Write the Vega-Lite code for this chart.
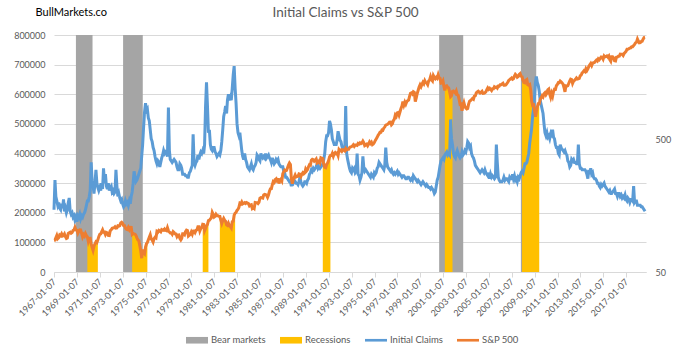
{
"$schema":"https://vega.github.io/schema/vega-lite/v6.json",
"width":592,"height":237,"autosize":"none",
"padding":{"left":54,"top":35,"right":47,"bottom":74},
"background":"white",
"config":{"font":"Lato","view":{"stroke":null},"axisX":{"labelOverlap":false,"labelBound":false}},
"title":{"text":"Initial Claims vs S&P 500","fontSize":13.5,"fontWeight":"normal","color":"#595959","offset":-27,"baseline":"bottom","anchor":"middle","frame":"group","dx":-4.5},
"datasets":{
"bear":[{"d":"1968-12-01","e":"1970-05-15"},{"d":"1973-01-15","e":"1974-10-05"},{"d":"2000-09-01","e":"2002-10-09"},{"d":"2007-10-25","e":"2009-02-25"}],
"m":[
{"d":"1967-01","c":210000,"s":86.6},{"d":"1967-02","c":310000,"s":86.8},{"d":"1967-03","c":255000,"s":90.2},{"d":"1967-04","c":240000,"s":94.0},{"d":"1967-05","c":225000,"s":89.1},{"d":"1967-06","c":235000,"s":90.6},{"d":"1967-07","c":215000,"s":94.8},{"d":"1967-08","c":210000,"s":93.6},{"d":"1967-09","c":230000,"s":96.7},{"d":"1967-10","c":215000,"s":93.3},{"d":"1967-11","c":245000,"s":94.0},{"d":"1967-12","c":205000,"s":96.5},
{"d":"1968-01","c":215000,"s":92.2},{"d":"1968-02","c":200000,"s":89.4},{"d":"1968-03","c":210000,"s":90.2},{"d":"1968-04","c":235000,"s":97.5},{"d":"1968-05","c":250000,"s":98.7},{"d":"1968-06","c":205000,"s":99.6},{"d":"1968-07","c":195000,"s":97.7},{"d":"1968-08","c":200000,"s":98.9},{"d":"1968-09","c":185000,"s":102.7},{"d":"1968-10","c":190000,"s":103.4},{"d":"1968-11","c":175000,"s":108.4},{"d":"1968-12","c":185000,"s":103.9},
{"d":"1969-01","c":170000,"s":103.0},{"d":"1969-02","c":190000,"s":98.1},{"d":"1969-03","c":185000,"s":101.5},{"d":"1969-04","c":195000,"s":103.7},{"d":"1969-05","c":180000,"s":103.5},{"d":"1969-06","c":190000,"s":97.7},{"d":"1969-07","c":185000,"s":91.8},{"d":"1969-08","c":195000,"s":95.5},{"d":"1969-09","c":200000,"s":93.1},{"d":"1969-10","c":210000,"s":97.2},{"d":"1969-11","c":225000,"s":93.8},{"d":"1969-12","c":240000,"s":92.1,"r":1},
{"d":"1970-01","c":240000,"s":85.0,"r":1},{"d":"1970-02","c":255000,"s":89.5,"r":1},{"d":"1970-03","c":275000,"s":89.6,"r":1},{"d":"1970-04","c":370000,"s":81.5,"r":1},{"d":"1970-05","c":310000,"s":76.6,"r":1},{"d":"1970-06","c":290000,"s":72.7,"r":1},{"d":"1970-07","c":265000,"s":78.1,"r":1},{"d":"1970-08","c":300000,"s":81.5,"r":1},{"d":"1970-09","c":345000,"s":84.3,"r":1},{"d":"1970-10","c":300000,"s":83.3,"r":1},{"d":"1970-11","c":285000,"s":87.2,"r":1},{"d":"1970-12","c":275000,"s":92.2},
{"d":"1971-01","c":285000,"s":95.9},{"d":"1971-02","c":275000,"s":96.8},{"d":"1971-03","c":300000,"s":100.3},{"d":"1971-04","c":280000,"s":103.9},{"d":"1971-05","c":350000,"s":99.6},{"d":"1971-06","c":300000,"s":99.7},{"d":"1971-07","c":330000,"s":95.6},{"d":"1971-08","c":290000,"s":99.0},{"d":"1971-09","c":280000,"s":98.3},{"d":"1971-10","c":300000,"s":94.2},{"d":"1971-11","c":275000,"s":94.0},{"d":"1971-12","c":285000,"s":102.1},
{"d":"1972-01","c":290000,"s":103.9},{"d":"1972-02","c":270000,"s":106.6},{"d":"1972-03","c":275000,"s":107.2},{"d":"1972-04","c":265000,"s":107.7},{"d":"1972-05","c":270000,"s":109.5},{"d":"1972-06","c":345000,"s":107.1},{"d":"1972-07","c":290000,"s":107.4},{"d":"1972-08","c":255000,"s":111.1},{"d":"1972-09","c":265000,"s":110.6},{"d":"1972-10","c":250000,"s":111.6},{"d":"1972-11","c":240000,"s":116.7},{"d":"1972-12","c":245000,"s":118.1},
{"d":"1973-01","c":230000,"s":116.0},{"d":"1973-02","c":220000,"s":111.7},{"d":"1973-03","c":225000,"s":111.5},{"d":"1973-04","c":240000,"s":107.0},{"d":"1973-05","c":230000,"s":105.0},{"d":"1973-06","c":235000,"s":104.3},{"d":"1973-07","c":225000,"s":108.2},{"d":"1973-08","c":240000,"s":104.3},{"d":"1973-09","c":230000,"s":108.4},{"d":"1973-10","c":255000,"s":108.3},{"d":"1973-11","c":270000,"s":96.0,"r":2},{"d":"1973-12","c":300000,"s":97.6,"r":2},
{"d":"1974-01","c":340000,"s":96.6,"r":2},{"d":"1974-02","c":320000,"s":96.2,"r":2},{"d":"1974-03","c":305000,"s":94.0,"r":2},{"d":"1974-04","c":310000,"s":90.3,"r":2},{"d":"1974-05","c":320000,"s":87.3,"r":2},{"d":"1974-06","c":330000,"s":86.0,"r":2},{"d":"1974-07","c":340000,"s":79.3,"r":2},{"d":"1974-08","c":350000,"s":72.2,"r":2},{"d":"1974-09","c":390000,"s":63.5,"r":2},{"d":"1974-10","c":430000,"s":73.9,"r":2},{"d":"1974-11","c":490000,"s":70.0,"r":2},{"d":"1974-12","c":540000,"s":68.6,"r":2},
{"d":"1975-01","c":570000,"s":77.0,"r":2},{"d":"1975-02","c":545000,"s":81.6,"r":2},{"d":"1975-03","c":550000,"s":83.4,"r":2},{"d":"1975-04","c":520000,"s":87.3},{"d":"1975-05","c":510000,"s":91.2},{"d":"1975-06","c":480000,"s":95.2},{"d":"1975-07","c":450000,"s":88.8},{"d":"1975-08","c":440000,"s":86.9},{"d":"1975-09","c":420000,"s":83.9},{"d":"1975-10","c":410000,"s":89.0},{"d":"1975-11","c":390000,"s":91.2},{"d":"1975-12","c":375000,"s":90.2},
{"d":"1976-01","c":365000,"s":100.9},{"d":"1976-02","c":375000,"s":99.7},{"d":"1976-03","c":370000,"s":102.8},{"d":"1976-04","c":355000,"s":101.6},{"d":"1976-05","c":370000,"s":100.2},{"d":"1976-06","c":385000,"s":104.3},{"d":"1976-07","c":395000,"s":103.4},{"d":"1976-08","c":410000,"s":102.9},{"d":"1976-09","c":400000,"s":105.2},{"d":"1976-10","c":405000,"s":102.9},{"d":"1976-11","c":400000,"s":102.1},{"d":"1976-12","c":390000,"s":107.5},
{"d":"1977-01","c":555000,"s":102.0},{"d":"1977-02","c":410000,"s":99.8},{"d":"1977-03","c":380000,"s":98.4},{"d":"1977-04","c":375000,"s":98.4},{"d":"1977-05","c":370000,"s":96.1},{"d":"1977-06","c":375000,"s":100.5},{"d":"1977-07","c":380000,"s":98.9},{"d":"1977-08","c":375000,"s":96.8},{"d":"1977-09","c":370000,"s":96.5},{"d":"1977-10","c":355000,"s":92.3},{"d":"1977-11","c":345000,"s":94.8},{"d":"1977-12","c":345000,"s":95.1},
{"d":"1978-01","c":365000,"s":89.3},{"d":"1978-02","c":360000,"s":87.0},{"d":"1978-03","c":350000,"s":89.2},{"d":"1978-04","c":330000,"s":97.0},{"d":"1978-05","c":330000,"s":97.2},{"d":"1978-06","c":330000,"s":95.5},{"d":"1978-07","c":325000,"s":100.7},{"d":"1978-08","c":325000,"s":103.3},{"d":"1978-09","c":320000,"s":102.5},{"d":"1978-10","c":320000,"s":93.2},{"d":"1978-11","c":335000,"s":94.7},{"d":"1978-12","c":340000,"s":96.1},
{"d":"1979-01","c":350000,"s":99.9},{"d":"1979-02","c":360000,"s":96.3},{"d":"1979-03","c":465000,"s":101.6},{"d":"1979-04","c":370000,"s":101.8},{"d":"1979-05","c":360000,"s":99.1},{"d":"1979-06","c":370000,"s":102.9},{"d":"1979-07","c":375000,"s":103.8},{"d":"1979-08","c":395000,"s":109.3},{"d":"1979-09","c":380000,"s":109.3},{"d":"1979-10","c":395000,"s":101.8},{"d":"1979-11","c":405000,"s":106.2},{"d":"1979-12","c":400000,"s":107.9},
{"d":"1980-01","c":410000,"s":114.2,"r":3},{"d":"1980-02","c":400000,"s":113.7,"r":3},{"d":"1980-03","c":430000,"s":102.1,"r":3},{"d":"1980-04","c":560000,"s":106.3,"r":3},{"d":"1980-05","c":640000,"s":111.2,"r":3},{"d":"1980-06","c":560000,"s":114.2,"r":3},{"d":"1980-07","c":470000,"s":121.7,"r":3},{"d":"1980-08","c":480000,"s":122.4},{"d":"1980-09","c":430000,"s":125.5},{"d":"1980-10","c":415000,"s":127.5},{"d":"1980-11","c":410000,"s":140.5},{"d":"1980-12","c":420000,"s":135.8},
{"d":"1981-01","c":420000,"s":129.6},{"d":"1981-02","c":405000,"s":131.3},{"d":"1981-03","c":400000,"s":136.0},{"d":"1981-04","c":390000,"s":132.8},{"d":"1981-05","c":395000,"s":132.6},{"d":"1981-06","c":400000,"s":131.2},{"d":"1981-07","c":395000,"s":130.9,"r":4},{"d":"1981-08","c":410000,"s":122.8,"r":4},{"d":"1981-09","c":440000,"s":116.2,"r":4},{"d":"1981-10","c":480000,"s":121.9,"r":4},{"d":"1981-11","c":525000,"s":126.4,"r":4},{"d":"1981-12","c":540000,"s":122.6,"r":4},
{"d":"1982-01","c":560000,"s":120.4,"r":4},{"d":"1982-02","c":535000,"s":113.1,"r":4},{"d":"1982-03","c":580000,"s":112.0,"r":4},{"d":"1982-04","c":600000,"s":116.4,"r":4},{"d":"1982-05","c":580000,"s":111.9,"r":4},{"d":"1982-06","c":590000,"s":109.6,"r":4},{"d":"1982-07","c":580000,"s":107.1,"r":4},{"d":"1982-08","c":620000,"s":119.5,"r":4},{"d":"1982-09","c":665000,"s":120.4,"r":4},{"d":"1982-10","c":695000,"s":133.7,"r":4},{"d":"1982-11","c":620000,"s":138.5,"r":4},{"d":"1982-12","c":570000,"s":140.6},
{"d":"1983-01","c":500000,"s":145.3},{"d":"1983-02","c":470000,"s":148.1},{"d":"1983-03","c":460000,"s":153.0},{"d":"1983-04","c":470000,"s":164.4},{"d":"1983-05","c":440000,"s":162.4},{"d":"1983-06","c":410000,"s":168.1},{"d":"1983-07","c":390000,"s":162.6},{"d":"1983-08","c":380000,"s":164.4},{"d":"1983-09","c":400000,"s":166.1},{"d":"1983-10","c":380000,"s":163.6},{"d":"1983-11","c":370000,"s":166.4},{"d":"1983-12","c":355000,"s":164.9},
{"d":"1984-01","c":350000,"s":163.4},{"d":"1984-02","c":345000,"s":157.1},{"d":"1984-03","c":355000,"s":159.2},{"d":"1984-04","c":365000,"s":160.1},{"d":"1984-05","c":350000,"s":150.6},{"d":"1984-06","c":345000,"s":153.2},{"d":"1984-07","c":355000,"s":150.7},{"d":"1984-08","c":360000,"s":166.7},{"d":"1984-09","c":370000,"s":166.1},{"d":"1984-10","c":395000,"s":166.1},{"d":"1984-11","c":390000,"s":163.6},{"d":"1984-12","c":380000,"s":167.2},
{"d":"1985-01","c":375000,"s":179.6},{"d":"1985-02","c":400000,"s":181.2},{"d":"1985-03","c":390000,"s":180.7},{"d":"1985-04","c":385000,"s":179.8},{"d":"1985-05","c":390000,"s":189.6},{"d":"1985-06","c":385000,"s":191.9},{"d":"1985-07","c":400000,"s":190.9},{"d":"1985-08","c":385000,"s":188.6},{"d":"1985-09","c":390000,"s":182.1},{"d":"1985-10","c":395000,"s":189.8},{"d":"1985-11","c":385000,"s":202.2},{"d":"1985-12","c":380000,"s":211.3},
{"d":"1986-01","c":370000,"s":211.8},{"d":"1986-02","c":385000,"s":226.9},{"d":"1986-03","c":375000,"s":238.9},{"d":"1986-04","c":365000,"s":235.5},{"d":"1986-05","c":370000,"s":247.4},{"d":"1986-06","c":380000,"s":250.8},{"d":"1986-07","c":375000,"s":236.1},{"d":"1986-08","c":380000,"s":252.9},{"d":"1986-09","c":365000,"s":231.3},{"d":"1986-10","c":360000,"s":244.0},{"d":"1986-11","c":355000,"s":249.2},{"d":"1986-12","c":355000,"s":242.2},
{"d":"1987-01","c":355000,"s":274.1},{"d":"1987-02","c":340000,"s":284.2},{"d":"1987-03","c":335000,"s":291.7},{"d":"1987-04","c":320000,"s":288.4},{"d":"1987-05","c":320000,"s":290.1},{"d":"1987-06","c":315000,"s":304.0},{"d":"1987-07","c":310000,"s":318.7},{"d":"1987-08","c":305000,"s":329.8},{"d":"1987-09","c":305000,"s":321.8},{"d":"1987-10","c":290000,"s":251.8},{"d":"1987-11","c":305000,"s":230.3},{"d":"1987-12","c":300000,"s":247.1},
{"d":"1988-01","c":310000,"s":257.1},{"d":"1988-02","c":305000,"s":267.8},{"d":"1988-03","c":300000,"s":258.9},{"d":"1988-04","c":300000,"s":261.3},{"d":"1988-05","c":295000,"s":262.2},{"d":"1988-06","c":305000,"s":273.5},{"d":"1988-07","c":320000,"s":272.0},{"d":"1988-08","c":305000,"s":261.5},{"d":"1988-09","c":295000,"s":271.9},{"d":"1988-10","c":290000,"s":279.0},{"d":"1988-11","c":295000,"s":273.7},{"d":"1988-12","c":305000,"s":277.7},
{"d":"1989-01","c":305000,"s":297.5},{"d":"1989-02","c":300000,"s":288.9},{"d":"1989-03","c":310000,"s":294.9},{"d":"1989-04","c":315000,"s":309.6},{"d":"1989-05","c":330000,"s":320.5},{"d":"1989-06","c":335000,"s":318.0},{"d":"1989-07","c":345000,"s":346.1},{"d":"1989-08","c":340000,"s":351.5},{"d":"1989-09","c":350000,"s":349.2},{"d":"1989-10","c":345000,"s":340.4},{"d":"1989-11","c":350000,"s":346.0},{"d":"1989-12","c":355000,"s":353.4},
{"d":"1990-01","c":365000,"s":329.1},{"d":"1990-02","c":350000,"s":331.9},{"d":"1990-03","c":355000,"s":339.9},{"d":"1990-04","c":350000,"s":330.8},{"d":"1990-05","c":355000,"s":361.2},{"d":"1990-06","c":360000,"s":358.0},{"d":"1990-07","c":365000,"s":356.2,"r":5},{"d":"1990-08","c":380000,"s":322.6,"r":5},{"d":"1990-09","c":400000,"s":306.1,"r":5},{"d":"1990-10","c":440000,"s":304.0,"r":5},{"d":"1990-11","c":460000,"s":322.2,"r":5},{"d":"1990-12","c":460000,"s":330.2,"r":5},
{"d":"1991-01","c":470000,"s":343.9,"r":5},{"d":"1991-02","c":510000,"s":367.1,"r":5},{"d":"1991-03","c":500000,"s":375.2,"r":5},{"d":"1991-04","c":480000,"s":375.3},{"d":"1991-05","c":450000,"s":389.8},{"d":"1991-06","c":440000,"s":371.2},{"d":"1991-07","c":430000,"s":387.8},{"d":"1991-08","c":430000,"s":395.4},{"d":"1991-09","c":430000,"s":387.9},{"d":"1991-10","c":445000,"s":392.5},{"d":"1991-11","c":475000,"s":375.2},{"d":"1991-12","c":460000,"s":417.1},
{"d":"1992-01","c":445000,"s":408.8},{"d":"1992-02","c":440000,"s":412.7},{"d":"1992-03","c":425000,"s":403.7},{"d":"1992-04","c":415000,"s":415.0},{"d":"1992-05","c":420000,"s":415.4},{"d":"1992-06","c":410000,"s":408.1},{"d":"1992-07","c":560000,"s":424.2},{"d":"1992-08","c":400000,"s":414.0},{"d":"1992-09","c":380000,"s":417.8},{"d":"1992-10","c":365000,"s":418.7},{"d":"1992-11","c":350000,"s":431.4},{"d":"1992-12","c":340000,"s":435.7},
{"d":"1993-01","c":335000,"s":438.8},{"d":"1993-02","c":350000,"s":443.4},{"d":"1993-03","c":345000,"s":451.7},{"d":"1993-04","c":350000,"s":440.2},{"d":"1993-05","c":335000,"s":450.2},{"d":"1993-06","c":340000,"s":450.5},{"d":"1993-07","c":400000,"s":448.1},{"d":"1993-08","c":330000,"s":463.6},{"d":"1993-09","c":325000,"s":458.9},{"d":"1993-10","c":310000,"s":467.8},{"d":"1993-11","c":320000,"s":461.8},{"d":"1993-12","c":335000,"s":466.5},
{"d":"1994-01","c":390000,"s":481.6},{"d":"1994-02","c":350000,"s":467.1},{"d":"1994-03","c":340000,"s":445.8},{"d":"1994-04","c":345000,"s":450.9},{"d":"1994-05","c":340000,"s":456.5},{"d":"1994-06","c":335000,"s":444.3},{"d":"1994-07","c":330000,"s":458.3},{"d":"1994-08","c":325000,"s":475.5},{"d":"1994-09","c":320000,"s":462.7},{"d":"1994-10","c":330000,"s":472.4},{"d":"1994-11","c":325000,"s":453.7},{"d":"1994-12","c":320000,"s":459.3},
{"d":"1995-01","c":335000,"s":470.4},{"d":"1995-02","c":330000,"s":487.4},{"d":"1995-03","c":335000,"s":500.7},{"d":"1995-04","c":350000,"s":514.7},{"d":"1995-05","c":355000,"s":533.4},{"d":"1995-06","c":370000,"s":544.8},{"d":"1995-07","c":365000,"s":562.1},{"d":"1995-08","c":360000,"s":561.9},{"d":"1995-09","c":355000,"s":584.4},{"d":"1995-10","c":350000,"s":581.5},{"d":"1995-11","c":345000,"s":605.4},{"d":"1995-12","c":360000,"s":615.9},
{"d":"1996-01","c":420000,"s":636.0},{"d":"1996-02","c":370000,"s":640.4},{"d":"1996-03","c":355000,"s":645.5},{"d":"1996-04","c":350000,"s":654.2},{"d":"1996-05","c":345000,"s":669.1},{"d":"1996-06","c":340000,"s":670.6},{"d":"1996-07","c":345000,"s":640.0},{"d":"1996-08","c":335000,"s":652.0},{"d":"1996-09","c":330000,"s":687.3},{"d":"1996-10","c":335000,"s":705.3},{"d":"1996-11","c":330000,"s":757.0},{"d":"1996-12","c":335000,"s":740.7},
{"d":"1997-01","c":340000,"s":786.2},{"d":"1997-02","c":330000,"s":790.8},{"d":"1997-03","c":335000,"s":757.1},{"d":"1997-04","c":330000,"s":801.3},{"d":"1997-05","c":325000,"s":848.3},{"d":"1997-06","c":320000,"s":885.1},{"d":"1997-07","c":325000,"s":954.3},{"d":"1997-08","c":325000,"s":899.5},{"d":"1997-09","c":320000,"s":947.3},{"d":"1997-10","c":315000,"s":914.6},{"d":"1997-11","c":315000,"s":955.4},{"d":"1997-12","c":320000,"s":970.4},
{"d":"1998-01","c":320000,"s":980.3},{"d":"1998-02","c":315000,"s":1049.3},{"d":"1998-03","c":310000,"s":1101.8},{"d":"1998-04","c":315000,"s":1111.8},{"d":"1998-05","c":310000,"s":1090.8},{"d":"1998-06","c":325000,"s":1133.8},{"d":"1998-07","c":320000,"s":1120.7},{"d":"1998-08","c":315000,"s":957.3},{"d":"1998-09","c":310000,"s":1017.0},{"d":"1998-10","c":305000,"s":1098.7},{"d":"1998-11","c":310000,"s":1163.6},{"d":"1998-12","c":305000,"s":1229.2},
{"d":"1999-01","c":300000,"s":1279.6},{"d":"1999-02","c":295000,"s":1238.3},{"d":"1999-03","c":300000,"s":1286.4},{"d":"1999-04","c":305000,"s":1335.2},{"d":"1999-05","c":300000,"s":1301.8},{"d":"1999-06","c":295000,"s":1372.7},{"d":"1999-07","c":290000,"s":1328.7},{"d":"1999-08","c":295000,"s":1320.4},{"d":"1999-09","c":290000,"s":1282.7},{"d":"1999-10","c":285000,"s":1362.9},{"d":"1999-11","c":285000,"s":1389.0},{"d":"1999-12","c":280000,"s":1469.3},
{"d":"2000-01","c":285000,"s":1394.5},{"d":"2000-02","c":280000,"s":1366.4},{"d":"2000-03","c":275000,"s":1498.6},{"d":"2000-04","c":265000,"s":1452.4},{"d":"2000-05","c":270000,"s":1420.6},{"d":"2000-06","c":290000,"s":1454.6},{"d":"2000-07","c":310000,"s":1430.8},{"d":"2000-08","c":320000,"s":1517.7},{"d":"2000-09","c":340000,"s":1436.5},{"d":"2000-10","c":360000,"s":1429.4},{"d":"2000-11","c":375000,"s":1315.2},{"d":"2000-12","c":380000,"s":1320.3},
{"d":"2001-01","c":385000,"s":1366.0},{"d":"2001-02","c":380000,"s":1239.9},{"d":"2001-03","c":395000,"s":1160.3,"r":6},{"d":"2001-04","c":400000,"s":1249.5,"r":6},{"d":"2001-05","c":405000,"s":1255.8,"r":6},{"d":"2001-06","c":395000,"s":1224.4,"r":6},{"d":"2001-07","c":400000,"s":1211.2,"r":6},{"d":"2001-08","c":395000,"s":1133.6,"r":6},{"d":"2001-09","c":515000,"s":1040.9,"r":6},{"d":"2001-10","c":450000,"s":1059.8,"r":6},{"d":"2001-11","c":430000,"s":1139.5,"r":6},{"d":"2001-12","c":400000,"s":1148.1},
{"d":"2002-01","c":390000,"s":1130.2},{"d":"2002-02","c":385000,"s":1106.7},{"d":"2002-03","c":400000,"s":1147.4},{"d":"2002-04","c":410000,"s":1076.9},{"d":"2002-05","c":400000,"s":1067.1},{"d":"2002-06","c":390000,"s":989.8},{"d":"2002-07","c":385000,"s":911.6},{"d":"2002-08","c":390000,"s":916.1},{"d":"2002-09","c":405000,"s":815.3},{"d":"2002-10","c":395000,"s":885.8},{"d":"2002-11","c":400000,"s":936.3},{"d":"2002-12","c":410000,"s":879.8},
{"d":"2003-01","c":405000,"s":855.7},{"d":"2003-02","c":420000,"s":841.2},{"d":"2003-03","c":440000,"s":848.2},{"d":"2003-04","c":435000,"s":916.9},{"d":"2003-05","c":420000,"s":963.6},{"d":"2003-06","c":425000,"s":974.5},{"d":"2003-07","c":400000,"s":990.3},{"d":"2003-08","c":390000,"s":1008.0},{"d":"2003-09","c":385000,"s":996.0},{"d":"2003-10","c":375000,"s":1050.7},{"d":"2003-11","c":360000,"s":1058.2},{"d":"2003-12","c":355000,"s":1111.9},
{"d":"2004-01","c":350000,"s":1131.1},{"d":"2004-02","c":345000,"s":1144.9},{"d":"2004-03","c":340000,"s":1126.2},{"d":"2004-04","c":335000,"s":1107.3},{"d":"2004-05","c":340000,"s":1120.7},{"d":"2004-06","c":345000,"s":1140.8},{"d":"2004-07","c":340000,"s":1101.7},{"d":"2004-08","c":335000,"s":1104.2},{"d":"2004-09","c":345000,"s":1114.6},{"d":"2004-10","c":335000,"s":1130.2},{"d":"2004-11","c":330000,"s":1173.8},{"d":"2004-12","c":325000,"s":1211.9},
{"d":"2005-01","c":335000,"s":1181.3},{"d":"2005-02","c":315000,"s":1203.6},{"d":"2005-03","c":330000,"s":1180.6},{"d":"2005-04","c":320000,"s":1156.9},{"d":"2005-05","c":325000,"s":1191.5},{"d":"2005-06","c":320000,"s":1191.3},{"d":"2005-07","c":315000,"s":1234.2},{"d":"2005-08","c":320000,"s":1220.3},{"d":"2005-09","c":430000,"s":1228.8},{"d":"2005-10","c":370000,"s":1207.0},{"d":"2005-11","c":320000,"s":1249.5},{"d":"2005-12","c":310000,"s":1248.3},
{"d":"2006-01","c":305000,"s":1280.1},{"d":"2006-02","c":305000,"s":1280.7},{"d":"2006-03","c":305000,"s":1294.9},{"d":"2006-04","c":310000,"s":1310.6},{"d":"2006-05","c":320000,"s":1270.1},{"d":"2006-06","c":310000,"s":1270.2},{"d":"2006-07","c":315000,"s":1276.7},{"d":"2006-08","c":315000,"s":1303.8},{"d":"2006-09","c":310000,"s":1335.9},{"d":"2006-10","c":305000,"s":1377.9},{"d":"2006-11","c":320000,"s":1400.6},{"d":"2006-12","c":315000,"s":1418.3},
{"d":"2007-01","c":315000,"s":1438.2},{"d":"2007-02","c":330000,"s":1406.8},{"d":"2007-03","c":315000,"s":1420.9},{"d":"2007-04","c":325000,"s":1482.4},{"d":"2007-05","c":310000,"s":1530.6},{"d":"2007-06","c":315000,"s":1503.4},{"d":"2007-07","c":305000,"s":1455.3},{"d":"2007-08","c":320000,"s":1474.0},{"d":"2007-09","c":315000,"s":1526.8},{"d":"2007-10","c":325000,"s":1549.4},{"d":"2007-11","c":335000,"s":1481.1},{"d":"2007-12","c":340000,"s":1468.4,"r":7},
{"d":"2008-01","c":335000,"s":1378.6,"r":7},{"d":"2008-02","c":350000,"s":1330.6,"r":7},{"d":"2008-03","c":365000,"s":1322.7,"r":7},{"d":"2008-04","c":365000,"s":1385.6,"r":7},{"d":"2008-05","c":370000,"s":1400.4,"r":7},{"d":"2008-06","c":385000,"s":1280.0,"r":7},{"d":"2008-07","c":400000,"s":1267.4,"r":7},{"d":"2008-08","c":435000,"s":1282.8,"r":7},{"d":"2008-09","c":460000,"s":1166.4,"r":7},{"d":"2008-10","c":485000,"s":968.8,"r":7},{"d":"2008-11","c":525000,"s":896.2,"r":7},{"d":"2008-12","c":550000,"s":903.3,"r":7},
{"d":"2009-01","c":590000,"s":825.9,"r":7},{"d":"2009-02","c":640000,"s":735.1,"r":7},{"d":"2009-03","c":660000,"s":797.9,"r":7},{"d":"2009-04","c":640000,"s":872.8,"r":7},{"d":"2009-05","c":630000,"s":919.1,"r":7},{"d":"2009-06","c":610000,"s":919.3,"r":7},{"d":"2009-07","c":580000,"s":987.5},{"d":"2009-08","c":565000,"s":1020.6},{"d":"2009-09","c":550000,"s":1057.1},{"d":"2009-10","c":535000,"s":1036.2},{"d":"2009-11","c":500000,"s":1095.6},{"d":"2009-12","c":470000,"s":1115.1},
{"d":"2010-01","c":460000,"s":1073.9},{"d":"2010-02","c":470000,"s":1104.5},{"d":"2010-03","c":455000,"s":1169.4},{"d":"2010-04","c":460000,"s":1186.7},{"d":"2010-05","c":450000,"s":1089.4},{"d":"2010-06","c":465000,"s":1030.7},{"d":"2010-07","c":455000,"s":1101.6},{"d":"2010-08","c":480000,"s":1049.3},{"d":"2010-09","c":455000,"s":1141.2},{"d":"2010-10","c":450000,"s":1183.3},{"d":"2010-11","c":430000,"s":1180.6},{"d":"2010-12","c":420000,"s":1257.6},
{"d":"2011-01","c":420000,"s":1286.1},{"d":"2011-02","c":400000,"s":1327.2},{"d":"2011-03","c":395000,"s":1325.8},{"d":"2011-04","c":430000,"s":1363.6},{"d":"2011-05","c":420000,"s":1345.2},{"d":"2011-06","c":415000,"s":1320.6},{"d":"2011-07","c":410000,"s":1292.3},{"d":"2011-08","c":405000,"s":1218.9},{"d":"2011-09","c":410000,"s":1131.4},{"d":"2011-10","c":400000,"s":1253.3},{"d":"2011-11","c":395000,"s":1247.0},{"d":"2011-12","c":375000,"s":1257.6},
{"d":"2012-01","c":370000,"s":1312.4},{"d":"2012-02","c":355000,"s":1365.7},{"d":"2012-03","c":360000,"s":1408.5},{"d":"2012-04","c":380000,"s":1397.9},{"d":"2012-05","c":375000,"s":1310.3},{"d":"2012-06","c":380000,"s":1362.2},{"d":"2012-07","c":370000,"s":1379.3},{"d":"2012-08","c":370000,"s":1406.6},{"d":"2012-09","c":365000,"s":1440.7},{"d":"2012-10","c":365000,"s":1412.2},{"d":"2012-11","c":430000,"s":1416.2},{"d":"2012-12","c":365000,"s":1426.2},
{"d":"2013-01","c":350000,"s":1498.1},{"d":"2013-02","c":350000,"s":1514.7},{"d":"2013-03","c":345000,"s":1569.2},{"d":"2013-04","c":345000,"s":1597.6},{"d":"2013-05","c":345000,"s":1630.7},{"d":"2013-06","c":345000,"s":1606.3},{"d":"2013-07","c":340000,"s":1685.7},{"d":"2013-08","c":330000,"s":1633.0},{"d":"2013-09","c":315000,"s":1681.6},{"d":"2013-10","c":345000,"s":1756.5},{"d":"2013-11","c":330000,"s":1805.8},{"d":"2013-12","c":350000,"s":1848.4},
{"d":"2014-01","c":330000,"s":1782.6},{"d":"2014-02","c":335000,"s":1859.5},{"d":"2014-03","c":320000,"s":1872.3},{"d":"2014-04","c":315000,"s":1884.0},{"d":"2014-05","c":315000,"s":1923.6},{"d":"2014-06","c":310000,"s":1960.2},{"d":"2014-07","c":300000,"s":1930.7},{"d":"2014-08","c":300000,"s":2003.4},{"d":"2014-09","c":290000,"s":1972.3},{"d":"2014-10","c":285000,"s":2018.1},{"d":"2014-11","c":295000,"s":2067.6},{"d":"2014-12","c":290000,"s":2058.9},
{"d":"2015-01","c":295000,"s":1995.0},{"d":"2015-02","c":300000,"s":2104.5},{"d":"2015-03","c":290000,"s":2067.9},{"d":"2015-04","c":285000,"s":2085.5},{"d":"2015-05","c":280000,"s":2107.4},{"d":"2015-06","c":275000,"s":2063.1},{"d":"2015-07","c":270000,"s":2103.8},{"d":"2015-08","c":275000,"s":1972.2},{"d":"2015-09","c":265000,"s":1920.0},{"d":"2015-10","c":265000,"s":2079.4},{"d":"2015-11","c":270000,"s":2080.4},{"d":"2015-12","c":275000,"s":2043.9},
{"d":"2016-01","c":280000,"s":1940.2},{"d":"2016-02","c":265000,"s":1932.2},{"d":"2016-03","c":265000,"s":2059.7},{"d":"2016-04","c":255000,"s":2065.3},{"d":"2016-05","c":265000,"s":2097.0},{"d":"2016-06","c":265000,"s":2098.9},{"d":"2016-07","c":255000,"s":2173.6},{"d":"2016-08","c":260000,"s":2171.0},{"d":"2016-09","c":250000,"s":2168.3},{"d":"2016-10","c":255000,"s":2126.2},{"d":"2016-11","c":250000,"s":2199.0},{"d":"2016-12","c":260000,"s":2238.8},
{"d":"2017-01","c":245000,"s":2278.9},{"d":"2017-02","c":240000,"s":2363.6},{"d":"2017-03","c":250000,"s":2362.7},{"d":"2017-04","c":245000,"s":2384.2},{"d":"2017-05","c":235000,"s":2411.8},{"d":"2017-06","c":245000,"s":2423.4},{"d":"2017-07","c":245000,"s":2470.3},{"d":"2017-08","c":240000,"s":2471.7},{"d":"2017-09","c":290000,"s":2519.4},{"d":"2017-10","c":235000,"s":2575.3},{"d":"2017-11","c":240000,"s":2647.6},{"d":"2017-12","c":240000,"s":2673.6},
{"d":"2018-01","c":225000,"s":2823.8},{"d":"2018-02","c":225000,"s":2713.8},{"d":"2018-03","c":225000,"s":2640.9},{"d":"2018-04","c":225000,"s":2648.1},{"d":"2018-05","c":220000,"s":2705.3},{"d":"2018-06","c":220000,"s":2718.4},{"d":"2018-07","c":215000,"s":2816.3},{"d":"2018-08","c":210000,"s":2901.5},{"d":"2018-09","c":205000,"s":2914.0}
]},
"encoding":{
 "x":{"field":"d","type":"temporal",
  "scale":{"type":"utc","domain":[{"year":1967,"month":1,"date":1,"utc":true},{"year":2018,"month":10,"date":1,"utc":true}]},
  "axis":{"title":null,"grid":false,"format":"%Y-%m-%d","labelAngle":-45,"labelAlign":"right","labelBaseline":"middle","labelPadding":3,"labelOverlap":false,"labelBound":false,"labelFontSize":9,"labelColor":"#595959","tickSize":5,"tickColor":"#D9D9D9","domainColor":"#D9D9D9",
   "values":[{"year":1967,"month":1,"date":7,"utc":true},{"year":1969,"month":1,"date":7,"utc":true},{"year":1971,"month":1,"date":7,"utc":true},{"year":1973,"month":1,"date":7,"utc":true},{"year":1975,"month":1,"date":7,"utc":true},{"year":1977,"month":1,"date":7,"utc":true},{"year":1979,"month":1,"date":7,"utc":true},{"year":1981,"month":1,"date":7,"utc":true},{"year":1983,"month":1,"date":7,"utc":true},{"year":1985,"month":1,"date":7,"utc":true},{"year":1987,"month":1,"date":7,"utc":true},{"year":1989,"month":1,"date":7,"utc":true},{"year":1991,"month":1,"date":7,"utc":true},{"year":1993,"month":1,"date":7,"utc":true},{"year":1995,"month":1,"date":7,"utc":true},{"year":1997,"month":1,"date":7,"utc":true},{"year":1999,"month":1,"date":7,"utc":true},{"year":2001,"month":1,"date":7,"utc":true},{"year":2003,"month":1,"date":7,"utc":true},{"year":2005,"month":1,"date":7,"utc":true},{"year":2007,"month":1,"date":7,"utc":true},{"year":2009,"month":1,"date":7,"utc":true},{"year":2011,"month":1,"date":7,"utc":true},{"year":2013,"month":1,"date":7,"utc":true},{"year":2015,"month":1,"date":7,"utc":true},{"year":2017,"month":1,"date":7,"utc":true}]}}
},
"layer":[
{"data":{"name":"bear"},"mark":{"type":"rect"},
 "encoding":{
  "x2":{"field":"e"},
  "color":{"datum":"Bear markets","type":"nominal",
   "scale":{"domain":["Bear markets","Recessions","Initial Claims","S&P 500"],"range":["#A5A5A5","#FFC000","#5B9BD5","#ED7D31"]},
   "legend":{"orient":"none","legendX":132,"legendY":294,"direction":"horizontal","columns":4,"title":null,"symbolSize":484,"labelFontSize":9.5,"labelColor":"#595959","labelOffset":3,"columnPadding":14,
    "encode":{"symbols":{"update":{"shape":{"signal":"(datum.value === 'Bear markets' || datum.value === 'Recessions') ? 'M-1,-0.3H1V0.3H-1Z' : 'M-1,-0.12H1V0.12H-1Z'"},"fill":{"signal":"scale('color', datum.value)"},"stroke":{"value":"transparent"},"strokeWidth":{"value":0},"opacity":{"value":1}}}}}}
 }},
{"data":{"name":"m"},"transform":[{"filter":"datum.r > 0"}],"mark":{"type":"area","opacity":1},
 "encoding":{
  "y":{"field":"s","type":"quantitative","scale":{"type":"log","domain":[50,3027],"nice":false},"axis":null},
  "y2":{"datum":50},
  "detail":{"field":"r","type":"nominal"},
  "color":{"datum":"Recessions","type":"nominal"}
 }},
{"data":{"name":"m"},"mark":{"type":"line","strokeWidth":3},
 "encoding":{
  "y":{"field":"c","type":"quantitative","scale":{"domain":[0,800000],"nice":false},
   "axis":{"orient":"left","values":[0,100000,200000,300000,400000,500000,600000,700000,800000],"format":"d","grid":true,"gridColor":"#D9D9D9","domain":false,"ticks":false,"labelPadding":9,"labelColor":"#595959","labelFontSize":9,
    "title":"BullMarkets.co","titleAngle":0,"titleX":-19,"titleY":-23,"titleAlign":"left","titleBaseline":"middle","titleFontSize":11,"titleFontWeight":"normal","titleColor":"#000000"}},
  "color":{"datum":"Initial Claims","type":"nominal"}
 }},
{"data":{"name":"m"},"mark":{"type":"line","strokeWidth":3},
 "encoding":{
  "y":{"field":"s","type":"quantitative","scale":{"type":"log","domain":[50,3027],"nice":false},
   "axis":{"orient":"right","values":[50,500],"format":"d","grid":false,"domain":false,"ticks":false,"labelPadding":9,"labelColor":"#595959","labelFontSize":9,"title":null}},
  "color":{"datum":"S&P 500","type":"nominal"}
 }}
],
"resolve":{"scale":{"y":"independent"},"axis":{"y":"independent"}}
}
